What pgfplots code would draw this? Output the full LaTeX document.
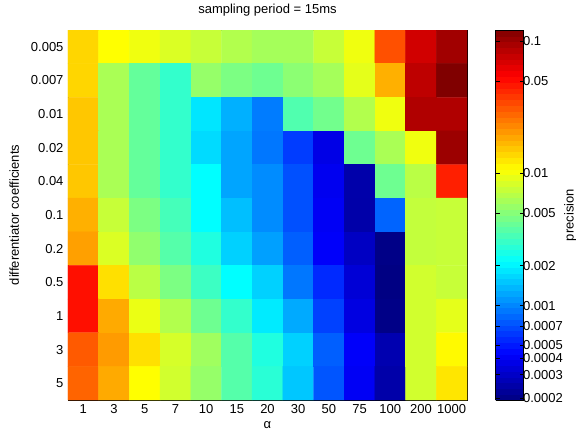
\documentclass[border=0pt]{standalone}
\usepackage{pgfplots}
\pgfplotsset{compat=1.18}
\usepackage{fontspec}
\setmainfont{Liberation Sans}
\begin{document}
\fontsize{13bp}{15bp}\selectfont
\begin{tikzpicture}
\path[use as bounding box] (-68bp,-32bp) rectangle (508bp,400bp);
\begin{axis}[
  at={(0,0)}, anchor=south west,
  scale only axis, width=399bp, height=370bp,
  xmin=-0.5, xmax=12.5, ymin=-0.5, ymax=10.5,
  y dir=reverse,
  xtick={0,...,12},
  xticklabels={1,3,5,7,10,15,20,30,50,75,100,200,1000},
  ytick={0,...,10},
  yticklabels={0.005,0.007,0.01,0.02,0.04,0.1,0.2,0.5,1,3,5},
  tick align=inside, major tick length=4bp,
  tick style={black, line width=0.5bp},
  axis line style={line width=0.8bp},
  /pgf/number format/assume math mode=true,
  xlabel={α},
  ylabel={differentiator coefficients},
  title={sampling period = 15ms},
  title style={yshift=3bp},
  xlabel style={yshift=1bp},
  ylabel style={yshift=3bp},
  colormap/jet,
  point meta min=-3.714, point meta max=-0.917,
  colorbar sampled,
  colorbar style={
    samples=65,
    at={(parent axis.north east)}, anchor=north west, xshift=20bp,
    width=28bp,
    ytick={-1,-1.30103,-2,-2.30103,-2.69897,-3,-3.15490,-3.30103,-3.39794,-3.52288,-3.69897},
    yticklabels={0.1,0.05,0.01,0.005,0.002,0.001,0.0007,0.0005,0.0004,0.0003,0.0002},
    yticklabel style={xshift=-5bp},
    tick align=inside, major tick length=4bp,
    ytick pos=both, yticklabel pos=right,
    tick style={black, line width=0.5bp},
    axis line style={line width=0.8bp},
    ylabel={precision},
    every axis y label/.style={at={(axis description cs:1,0.5)}, anchor=base, rotate=90, yshift=-50bp},
    /pgf/number format/assume math mode=true,
  },
]
\addplot[matrix plot*, mesh/cols=13, point meta=explicit] table[row sep=\\, meta=c] {
x y c\\
0 0 -1.854\\ 1 0 -1.966\\ 2 0 -2.008\\ 3 0 -2.064\\ 4 0 -2.120\\ 5 0 -2.176\\ 6 0 -2.212\\ 7 0 -2.212\\ 8 0 -2.120\\ 9 0 -2.008\\ 10 0 -1.485\\ 11 0 -1.141\\ 12 0 -1.009\\
0 1 -1.854\\ 1 1 -2.198\\ 2 1 -2.391\\ 3 1 -2.525\\ 4 1 -2.254\\ 5 1 -2.324\\ 6 1 -2.363\\ 7 1 -2.282\\ 8 1 -2.212\\ 9 1 -2.036\\ 10 1 -1.748\\ 11 1 -1.088\\ 12 1 -0.917\\
0 2 -1.812\\ 1 2 -2.198\\ 2 2 -2.391\\ 3 2 -2.525\\ 4 2 -2.735\\ 5 2 -2.883\\ 6 2 -3.023\\ 7 2 -2.447\\ 8 2 -2.352\\ 9 2 -2.176\\ 10 2 -2.008\\ 11 2 -1.048\\ 12 2 -1.048\\
0 3 -1.812\\ 1 3 -2.198\\ 2 3 -2.391\\ 3 3 -2.525\\ 4 3 -2.763\\ 5 3 -2.911\\ 6 3 -3.037\\ 7 3 -3.199\\ 8 3 -3.434\\ 9 3 -2.363\\ 10 3 -2.198\\ 11 3 -2.008\\ 12 3 -0.995\\
0 4 -1.812\\ 1 4 -2.198\\ 2 4 -2.391\\ 3 4 -2.525\\ 4 4 -2.665\\ 5 4 -2.911\\ 6 4 -2.981\\ 7 4 -3.146\\ 8 4 -3.406\\ 9 4 -3.597\\ 10 4 -2.363\\ 11 4 -2.156\\ 12 4 -1.351\\
0 5 -1.748\\ 1 5 -2.120\\ 2 5 -2.324\\ 3 5 -2.475\\ 4 5 -2.665\\ 5 5 -2.841\\ 6 5 -2.981\\ 7 5 -3.146\\ 8 5 -3.392\\ 9 5 -3.602\\ 10 5 -3.090\\ 11 5 -2.131\\ 12 5 -2.120\\
0 6 -1.706\\ 1 6 -2.064\\ 2 6 -2.268\\ 3 6 -2.433\\ 4 6 -2.581\\ 5 6 -2.791\\ 6 6 -2.925\\ 7 6 -3.104\\ 8 6 -3.378\\ 9 6 -3.529\\ 10 6 -3.694\\ 11 6 -2.131\\ 12 6 -2.120\\
0 7 -1.309\\ 1 7 -1.882\\ 2 7 -2.156\\ 3 7 -2.324\\ 4 7 -2.500\\ 5 7 -2.665\\ 6 7 -2.791\\ 7 7 -3.037\\ 8 7 -3.252\\ 9 7 -3.476\\ 10 7 -3.706\\ 11 7 -2.092\\ 12 7 -2.120\\
0 8 -1.309\\ 1 8 -1.734\\ 2 8 -2.022\\ 3 8 -2.176\\ 4 8 -2.363\\ 5 8 -2.525\\ 6 8 -2.721\\ 7 8 -2.897\\ 8 8 -3.185\\ 9 8 -3.448\\ 10 8 -3.694\\ 11 8 -2.092\\ 12 8 -2.036\\
0 9 -1.513\\ 1 9 -1.692\\ 2 9 -1.882\\ 3 9 -2.078\\ 4 9 -2.226\\ 5 9 -2.433\\ 6 9 -2.581\\ 7 9 -2.791\\ 8 9 -3.104\\ 9 9 -3.378\\ 10 9 -3.583\\ 11 9 -2.092\\ 12 9 -1.952\\
0 10 -1.541\\ 1 10 -1.734\\ 2 10 -1.966\\ 3 10 -2.092\\ 4 10 -2.254\\ 5 10 -2.433\\ 6 10 -2.553\\ 7 10 -2.819\\ 8 10 -3.132\\ 9 10 -3.392\\ 10 10 -3.602\\ 11 10 -2.092\\ 12 10 -1.896\\
};
\end{axis}
\end{tikzpicture}
\end{document}
